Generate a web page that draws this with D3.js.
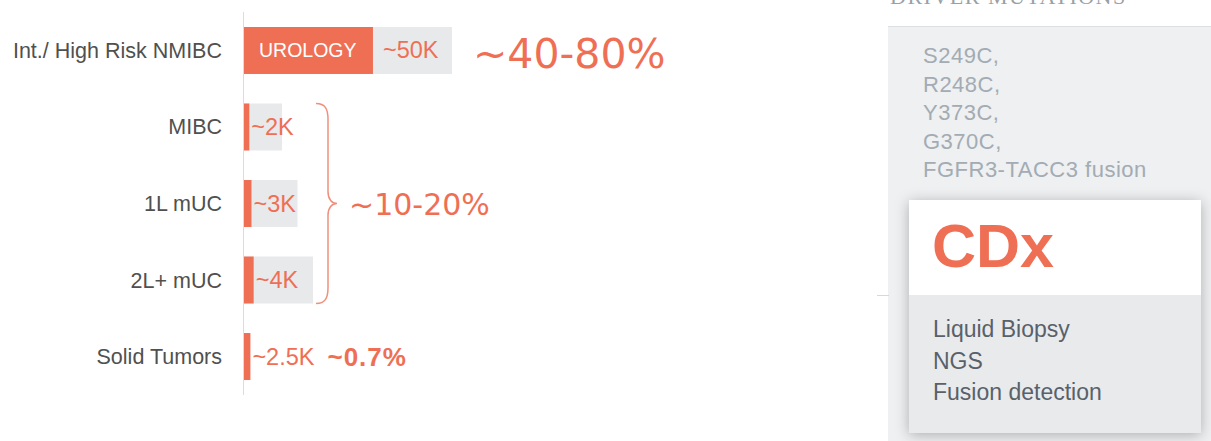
<!DOCTYPE html>
<html>
<head>
<meta charset="utf-8">
<script src="https://cdn.jsdelivr.net/npm/d3@7"></script>
<style>
  body { margin: 0; background: #fff; }
  svg { display: block; font-family: "Liberation Sans", Arial, sans-serif; }
</style>
</head>
<body>
<script>
// data
var categories = ["Int./ High Risk NMIBC", "MIBC", "1L mUC", "2L+ mUC", "Solid Tumors"];
var patientsK = [50, 2, 3, 4, 2.5];
var valueLabels = ["~50K", "~2K", "~3K", "~4K", "~2.5K"];
var fgfr3Share = [0.62, 0.14, 0.14, 0.14, 0.14];
var showPool = [true, true, true, true, false];
var shareLabels = ["~40-80%", "~10-20%", "~0.7%"];
var mutations = ["S249C,", "R248C,", "Y373C,", "G370C,", "FGFR3-TACC3 fusion"];
var cdxMethods = ["Liquid Biopsy", "NGS", "Fusion detection"];

var orange = "#ef6f55", pool = "#e8e9eb";
var width = 1211, height = 441;

var svg = d3.select("body").append("svg")
    .attr("width", width)
    .attr("height", height);

var defs = svg.append("defs");
var f = defs.append("filter").attr("id", "shadow")
    .attr("x", "-20%").attr("y", "-20%").attr("width", "140%").attr("height", "140%");
f.append("feDropShadow").attr("dx", 0).attr("dy", 2).attr("stdDeviation", 7)
    .attr("flood-color", "#000").attr("flood-opacity", 0.28);

// scales
var x0 = 244;
var x = d3.scaleLinear().domain([0, 2, 4, 50]).range([0, 38, 69, 208]);
var y = d3.scaleBand().domain(categories).range([27, 380]).paddingInner(0.386).paddingOuter(0);

var rows = categories.map(function(c, i) {
  return { cat: c, k: patientsK[i], label: valueLabels[i], share: fgfr3Share[i], pool: showPool[i], i: i };
});

// axis line
svg.append("line")
    .attr("x1", x0 - 0.5).attr("x2", x0 - 0.5)
    .attr("y1", 12).attr("y2", 395)
    .attr("stroke", "#dcdcdc").attr("stroke-width", 1);

// category labels
svg.selectAll(".cat")
  .data(rows)
  .enter().append("text")
    .attr("class", "cat")
    .attr("x", 222)
    .attr("y", d => y(d.cat) + y.bandwidth() / 2 + 7.5)
    .attr("text-anchor", "end")
    .attr("font-size", 21.5)
    .attr("fill", "#505050")
    .text(d => d.cat);

// pool bars
svg.selectAll(".pool")
  .data(rows.filter(d => d.pool))
  .enter().append("rect")
    .attr("x", x0)
    .attr("y", d => y(d.cat))
    .attr("width", d => x(d.k))
    .attr("height", y.bandwidth())
    .attr("fill", pool);

// FGFR3 bars
svg.selectAll(".fg")
  .data(rows)
  .enter().append("rect")
    .attr("x", x0)
    .attr("y", d => y(d.cat))
    .attr("width", d => x(d.k) * d.share)
    .attr("height", y.bandwidth())
    .attr("fill", orange);

// value labels
var vals = svg.selectAll(".val")
  .data(rows)
  .enter().append("text")
    .attr("class", "val")
    .attr("x", d => x0 + x(d.k) * d.share + (d.i === 0 ? 10 : 2))
    .attr("y", d => y(d.cat) + y.bandwidth() / 2 + 8)
    .attr("font-size", 23.5)
    .attr("fill", orange)
    .text(d => d.label);

// UROLOGY
svg.append("text")
    .attr("x", x0 + 15)
    .attr("y", y(categories[0]) + y.bandwidth() / 2 + 7)
    .attr("font-size", 19.5)
    .attr("fill", "#fff")
    .text("UROLOGY");

// ~40-80%
svg.append("text")
    .attr("x", x0 + x(patientsK[0]) + 21)
    .attr("y", y(categories[0]) + y.bandwidth() / 2 + 17.5)
    .attr("font-family", "'DejaVu Sans', sans-serif")
    .attr("font-size", 41)
    .attr("fill", orange)
    .text(shareLabels[0]);

// brace over MIBC..2L+
var bTop = y(categories[1]), bBot = y(categories[3]) + y.bandwidth();
var bMid = y(categories[2]) + y.bandwidth() / 2;
var bx = x0 + x(d3.max(patientsK.slice(1, 4))) + 3;
var bp = d3.path();
bp.moveTo(bx, bTop);
bp.bezierCurveTo(bx + 9, bTop, bx + 12, bTop + 5, bx + 12, bTop + 16);
bp.lineTo(bx + 12, bMid - 12);
bp.bezierCurveTo(bx + 12, bMid - 4, bx + 16, bMid, bx + 21, bMid);
bp.bezierCurveTo(bx + 16, bMid, bx + 12, bMid + 4, bx + 12, bMid + 12);
bp.lineTo(bx + 12, bBot - 16);
bp.bezierCurveTo(bx + 12, bBot - 5, bx + 9, bBot, bx, bBot);
svg.append("path")
    .attr("d", bp.toString())
    .attr("fill", "none")
    .attr("stroke", "#f0907c")
    .attr("stroke-width", 1.5);

svg.append("text")
    .attr("x", bx + 33)
    .attr("y", bMid + 11)
    .attr("font-family", "'DejaVu Sans', sans-serif")
    .attr("font-size", 30)
    .attr("fill", orange)
    .text(shareLabels[1]);

// ~0.7%
var solidLabel = vals.filter(d => d.i === 4).node();
svg.append("text")
    .attr("x", +solidLabel.getAttribute("x") + solidLabel.getComputedTextLength() + 13)
    .attr("y", y(categories[4]) + y.bandwidth() / 2 + 9)
    .attr("font-size", 26)
    .attr("font-weight", "bold")
    .attr("letter-spacing", 1)
    .attr("fill", orange)
    .text(shareLabels[2]);

// right panel
svg.append("text")
    .attr("x", 890)
    .attr("y", 4)
    .attr("font-family", "'Liberation Serif', serif")
    .attr("font-size", 22)
    .attr("letter-spacing", 1.5)
    .attr("fill", "#9aa0a6")
    .text("DRIVER MUTATIONS");

svg.append("rect")
    .attr("x", 888).attr("y", 27)
    .attr("width", width - 888).attr("height", height - 27)
    .attr("fill", "#eef0f1");
svg.append("line")
    .attr("x1", 888).attr("x2", width).attr("y1", 26.5).attr("y2", 26.5)
    .attr("stroke", "#dde0e2");
svg.append("line")
    .attr("x1", 877).attr("x2", 889).attr("y1", 295.5).attr("y2", 295.5)
    .attr("stroke", "#d6d8da");

svg.selectAll(".mut")
  .data(mutations)
  .enter().append("text")
    .attr("x", 923)
    .attr("y", (d, i) => 63 + i * 28.5)
    .attr("font-size", 22)
    .attr("letter-spacing", 0.5)
    .attr("fill", "#a3abb3")
    .text(d => d);

// CDx card
var card = svg.append("g").attr("filter", "url(#shadow)");
card.append("rect")
    .attr("x", 909).attr("y", 200).attr("width", 292).attr("height", 233)
    .attr("fill", "#e9eaec");
svg.append("rect")
    .attr("x", 909).attr("y", 200).attr("width", 292).attr("height", 95)
    .attr("fill", "#fff");

svg.append("text")
    .attr("x", 932)
    .attr("y", 267)
    .attr("font-size", 61)
    .attr("font-weight", "bold")
    .attr("fill", orange)
    .text("CDx");

svg.selectAll(".cdx")
  .data(cdxMethods)
  .enter().append("text")
    .attr("x", 933)
    .attr("y", (d, i) => 337 + i * 31.5)
    .attr("font-size", 23)
    .attr("fill", "#58616a")
    .text(d => d);
</script>
</body>
</html>
